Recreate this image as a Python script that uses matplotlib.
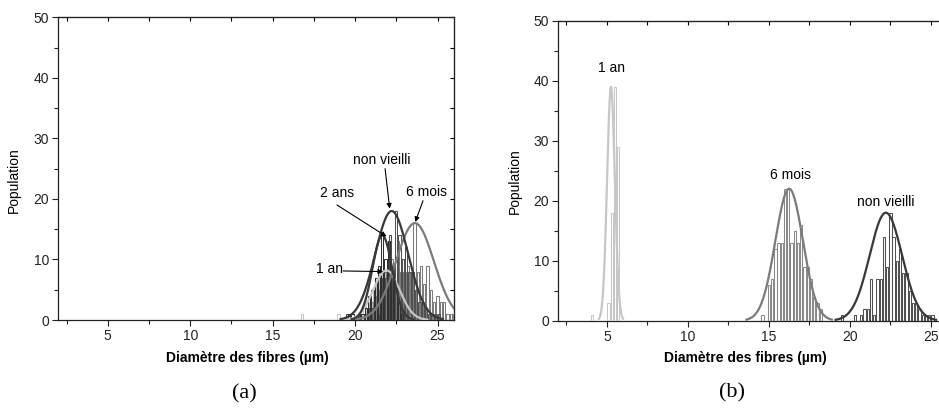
import numpy as np
import matplotlib.pyplot as plt

plt.rcParams['font.family'] = ['Liberation Sans', 'DejaVu Sans']

# ---- histogram data (bin centres, counts) ----
# panel (a)
non_x = np.round(np.arange(19.5, 25.2, 0.2), 2)
non_counts = [1, 0, 0, 0, 1, 0, 1, 2, 2, 7, 1, 7, 7, 14, 9,
              18, 14, 10, 12, 8, 8, 5, 3, 3, 2, 1, 1, 1, 1]

six_a_x = np.round(np.arange(21.0, 26.1, 0.2), 2)
six_a_counts = [3, 4, 5, 3, 8, 8, 10, 6, 13, 8, 8, 9, 8, 16,
                8, 9, 6, 9, 5, 3, 4, 3, 3, 1, 1, 1]

two_a_x = np.round(np.arange(19.65, 23.0, 0.2), 2)
two_a_counts = [1, 1, 0, 1, 1, 2, 4, 5, 7, 9, 14, 10, 13, 8, 6, 3, 1]

one_a_x = [16.8, 19.0, 20.35, 20.55, 20.75, 20.95, 21.15, 21.35, 21.55,
           21.75, 21.95, 22.15, 22.35, 22.55, 22.75, 22.95, 23.15]
one_a_counts = [1, 1, 1, 2, 3, 3, 5, 6, 8, 8, 8, 7, 6, 4, 3, 2, 1]

# panel (b)
one_b_x = [4.1, 5.1, 5.3, 5.5, 5.7]
one_b_counts = [1, 3, 18, 39, 29]

six_b_x = np.round(np.arange(14.6, 18.3, 0.2), 2)
six_b_counts = [1, 0, 6, 7, 12, 13, 13, 22, 22, 13, 15, 13, 16, 9, 9, 7, 4, 3, 2]

# gaussian fits: centre, width, height
fit_non = (22.22, 1.0, 18)
fit_six_a = (23.63, 1.15, 16)
fit_two_a = (21.65, 0.6, 14)
fit_one_a = (21.9, 0.8, 8.2)
fit_one_b = (5.25, 0.24, 39)
fit_six_b = (16.25, 0.85, 22)

dark = '#383838'
mid = '#7b7b7b'
light = '#c6c6c6'
FS = 10


def gauss(ax, fit, color):
    xc, w, h = fit
    xs = np.linspace(xc - 3.1 * w, xc + 3.1 * w, 300)
    ax.plot(xs, h * np.exp(-(xs - xc) ** 2 / (2 * w * w)), color=color, lw=1.6,
            zorder=4)


def bars(ax, x, y, color):
    ax.bar(x, y, width=0.14, fill=False, edgecolor=color, linewidth=0.75, zorder=3)


def style(ax):
    ax.set_xlim(2, 26)
    ax.set_ylim(0, 50)
    ax.set_xticks([5, 10, 15, 20, 25])
    ax.set_xticks(np.arange(2.5, 26, 2.5), minor=True)
    ax.set_yticks(range(0, 51, 10))
    ax.set_yticks(range(5, 50, 10), minor=True)
    ax.tick_params(which='both', direction='out', labelsize=FS, width=0.8,
                   colors='#222222', pad=2.5)
    ax.tick_params(which='major', length=4)
    ax.tick_params(which='minor', length=3)
    for s in ax.spines.values():
        s.set_linewidth(0.9)
        s.set_color('#222222')
    top = ax.secondary_xaxis('top')
    top.set_xticks(np.arange(2.5, 26, 2.5), labels=[])
    top.tick_params(direction='in', length=3, width=0.8)
    right = ax.secondary_yaxis('right')
    right.set_yticks(range(0, 51, 5), labels=[])
    right.tick_params(direction='in', length=3, width=0.8)
    ax.set_xlabel('Diamètre des fibres (µm)', fontsize=FS, fontweight='bold')
    ax.set_ylabel('Population', fontsize=FS)


def arrow(ax, start, tip):
    ax.annotate('', xy=tip, xytext=start,
                arrowprops=dict(arrowstyle='-|>', color='black', lw=0.8,
                                mutation_scale=7, shrinkA=0, shrinkB=0),
                zorder=6)


fig = plt.figure(figsize=(9.39, 4.12), dpi=100)
axa = fig.add_axes([0.0621, 0.2233, 0.4214, 0.7347])
axb = fig.add_axes([0.5946, 0.2216, 0.414, 0.728])

# ---- panel (a) ----
style(axa)
bars(axa, one_a_x, one_a_counts, light)
bars(axa, six_a_x, six_a_counts, mid)
bars(axa, non_x, non_counts, '#505050')
bars(axa, two_a_x, two_a_counts, '#303030')
gauss(axa, fit_one_a, light)
gauss(axa, fit_six_a, mid)
gauss(axa, fit_non, dark)
gauss(axa, fit_two_a, dark)

axa.text(21.62, 26.4, 'non vieilli', ha='center', va='center', fontsize=FS)
arrow(axa, (21.82, 25.0), (22.1, 18.4))
axa.text(24.34, 21.2, '6 mois', ha='center', va='center', fontsize=FS)
arrow(axa, (24.12, 19.7), (23.65, 16.2))
axa.text(18.93, 21.0, '2 ans', ha='center', va='center', fontsize=FS)
arrow(axa, (18.9, 19.0), (21.9, 13.8))
axa.text(19.25, 8.4, '1 an', ha='right', va='center', fontsize=FS)
arrow(axa, (19.28, 8.1), (21.7, 8.0))

axa.xaxis.set_label_coords(0.478, -0.1025)
axa.yaxis.set_label_coords(-0.094, 0.4625)

# ---- panel (b) ----
style(axb)
bars(axb, one_b_x, one_b_counts, light)
bars(axb, six_b_x, six_b_counts, '#8a8a8a')
bars(axb, non_x, non_counts, '#505050')
gauss(axb, fit_one_b, light)
gauss(axb, fit_six_b, mid)
gauss(axb, fit_non, dark)

axb.text(5.28, 42.2, '1 an', ha='center', va='center', fontsize=FS)
axb.text(16.36, 24.3, '6 mois', ha='center', va='center', fontsize=FS)
axb.text(22.22, 19.8, 'non vieilli', ha='center', va='center', fontsize=FS)

axb.xaxis.set_label_coords(0.48, -0.101)
axb.yaxis.set_label_coords(-0.0934, 0.466)

fig.text(244 / 939, 1 - 394 / 412, '(a)', ha='center', va='center',
         fontsize=16, family='Liberation Serif')
fig.text(732.5 / 939, 1 - 393 / 412, '(b)', ha='center', va='center',
         fontsize=16, family='Liberation Serif')

fig.savefig('out.png', dpi=100)
